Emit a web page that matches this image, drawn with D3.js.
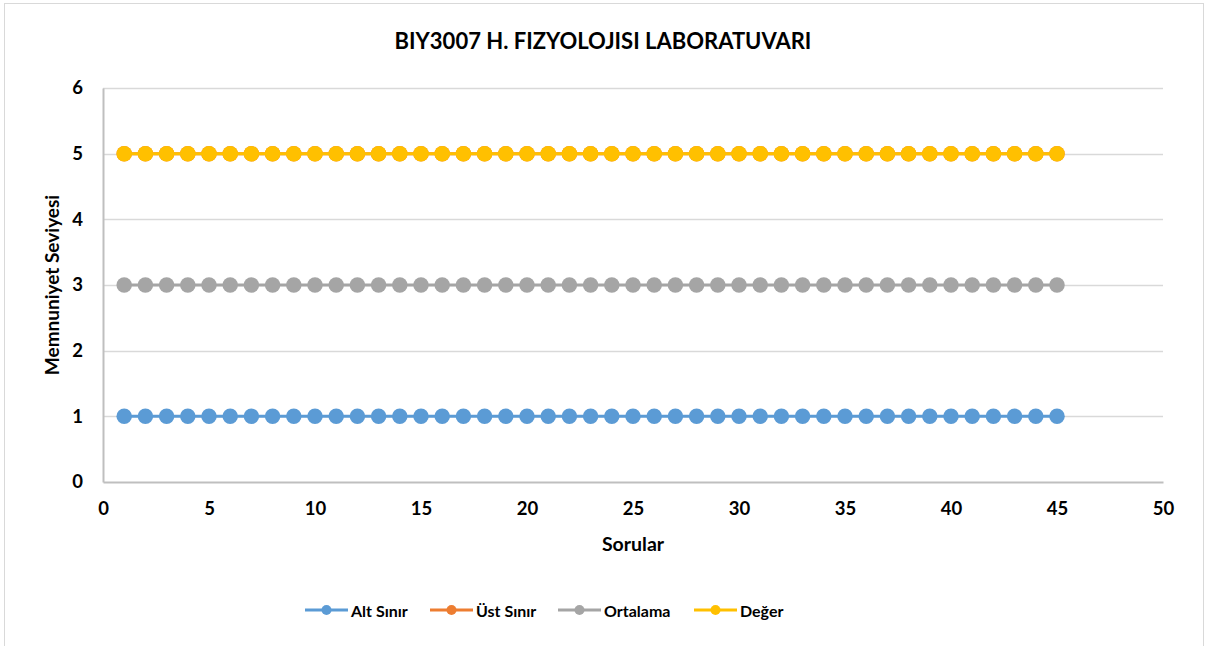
<!DOCTYPE html>
<html>
<head>
<meta charset="utf-8">
<script src="https://cdn.jsdelivr.net/npm/d3@7"></script>
<style>
  body { margin: 0; background: #fff; }
  svg { display: block; font-family: Lato, "Open Sans", sans-serif; }
</style>
</head>
<body>
<div id="chart"></div>
<script>
// question numbers (x)
const sorular = [1, 2, 3, 4, 5, 6, 7, 8, 9, 10, 11, 12, 13, 14, 15, 16, 17, 18, 19, 20,
  21, 22, 23, 24, 25, 26, 27, 28, 29, 30, 31, 32, 33, 34, 35, 36, 37, 38, 39, 40,
  41, 42, 43, 44, 45];
const altSinir = [1, 1, 1, 1, 1, 1, 1, 1, 1, 1, 1, 1, 1, 1, 1, 1, 1, 1, 1, 1,
  1, 1, 1, 1, 1, 1, 1, 1, 1, 1, 1, 1, 1, 1, 1, 1, 1, 1, 1, 1, 1, 1, 1, 1, 1];
const ustSinir = [5, 5, 5, 5, 5, 5, 5, 5, 5, 5, 5, 5, 5, 5, 5, 5, 5, 5, 5, 5,
  5, 5, 5, 5, 5, 5, 5, 5, 5, 5, 5, 5, 5, 5, 5, 5, 5, 5, 5, 5, 5, 5, 5, 5, 5];
const ortalama = [3, 3, 3, 3, 3, 3, 3, 3, 3, 3, 3, 3, 3, 3, 3, 3, 3, 3, 3, 3,
  3, 3, 3, 3, 3, 3, 3, 3, 3, 3, 3, 3, 3, 3, 3, 3, 3, 3, 3, 3, 3, 3, 3, 3, 3];
const deger = [5, 5, 5, 5, 5, 5, 5, 5, 5, 5, 5, 5, 5, 5, 5, 5, 5, 5, 5, 5,
  5, 5, 5, 5, 5, 5, 5, 5, 5, 5, 5, 5, 5, 5, 5, 5, 5, 5, 5, 5, 5, 5, 5, 5, 5];
const seriesNames = ["Alt Sınır", "Üst Sınır", "Ortalama", "Değer"];
const xTicks = [0, 5, 10, 15, 20, 25, 30, 35, 40, 45, 50];
const yTicks = [0, 1, 2, 3, 4, 5, 6];

const W = 1206, H = 646;
const plot = { left: 103, right: 1163, top: 88, bottom: 482 };
const colours = ["#5b9bd5", "#ed7d31", "#a5a5a5", "#ffc000"];

const series = [altSinir, ustSinir, ortalama, deger].map((vals, i) => ({
  name: seriesNames[i],
  colour: colours[i],
  values: sorular.map((q, j) => ({ x: q, y: vals[j] }))
}));

const svg = d3.select("#chart").append("svg")
  .attr("width", W).attr("height", H);

// chart border
svg.append("rect")
  .attr("x", 4.5).attr("y", 3.5)
  .attr("width", 1199).attr("height", 660)
  .attr("fill", "#fff").attr("stroke", "#d9d9d9").attr("stroke-width", 1);

const x = d3.scaleLinear().domain([0, 50]).range([plot.left, plot.right]);
const y = d3.scaleLinear().domain([0, 6]).range([plot.bottom, plot.top]);

// gridlines
svg.append("g")
  .selectAll("line")
  .data(yTicks.filter(d => d > 0))
  .join("line")
  .attr("x1", plot.left).attr("x2", plot.right)
  .attr("y1", d => Math.round(y(d)) + 0.5).attr("y2", d => Math.round(y(d)) + 0.5)
  .attr("stroke", "#d9d9d9").attr("stroke-width", 1.5);

// axes
const xAxis = svg.append("g")
  .attr("transform", `translate(0,${plot.bottom})`)
  .call(d3.axisBottom(x).tickValues(xTicks).tickFormat(d3.format("d")).tickSize(0).tickPadding(20));
const yAxis = svg.append("g")
  .attr("transform", `translate(${plot.left},0)`)
  .call(d3.axisLeft(y).tickValues(yTicks).tickFormat(d3.format("d")).tickSize(0).tickPadding(20));

[xAxis, yAxis].forEach(a => {
  a.select(".domain").attr("stroke", "#bfbfbf").attr("stroke-width", 2);
  a.selectAll("text")
    .attr("font-family", "Lato, sans-serif")
    .attr("font-size", "18.5px")
    .attr("font-weight", "bold")
    .attr("fill", "#000");
});

// series
const line = d3.line().x(d => x(d.x)).y(d => y(d.y));
series.forEach(s => {
  svg.append("path")
    .datum(s.values)
    .attr("fill", "none")
    .attr("stroke", s.colour)
    .attr("stroke-width", 3)
    .attr("d", line);
  svg.append("g")
    .selectAll("circle")
    .data(s.values)
    .join("circle")
    .attr("cx", d => x(d.x))
    .attr("cy", d => y(d.y))
    .attr("r", 7.75)
    .attr("fill", s.colour);
});

// title
svg.append("text")
  .attr("x", 603).attr("y", 49)
  .attr("text-anchor", "middle")
  .attr("font-size", "22px").attr("font-weight", "bold")
  .text("BIY3007 H. FIZYOLOJISI LABORATUVARI");

// axis titles
svg.append("text")
  .attr("x", (plot.left + plot.right) / 2).attr("y", 551)
  .attr("text-anchor", "middle")
  .attr("font-size", "19.5px").attr("font-weight", "bold")
  .text("Sorular");

svg.append("text")
  .attr("transform", `translate(59,${(plot.top + plot.bottom) / 2}) rotate(-90)`)
  .attr("text-anchor", "middle")
  .attr("font-size", "19px").attr("font-weight", "bold")
  .text("Memnuniyet Seviyesi");

// legend
const legendX = [305, 430, 558, 694];
const legend = svg.append("g").attr("transform", "translate(0,610)");
series.forEach((s, i) => {
  const g = legend.append("g").attr("transform", `translate(${legendX[i]},0)`);
  g.append("line")
    .attr("x1", 0).attr("x2", 43).attr("y1", 0).attr("y2", 0)
    .attr("stroke", s.colour).attr("stroke-width", 3);
  g.append("circle").attr("cx", 21.5).attr("cy", 0).attr("r", 5).attr("fill", s.colour);
  g.append("text")
    .attr("x", 46).attr("y", 7)
    .attr("font-size", "16px").attr("font-weight", "bold")
    .text(s.name);
});
</script>
</body>
</html>
